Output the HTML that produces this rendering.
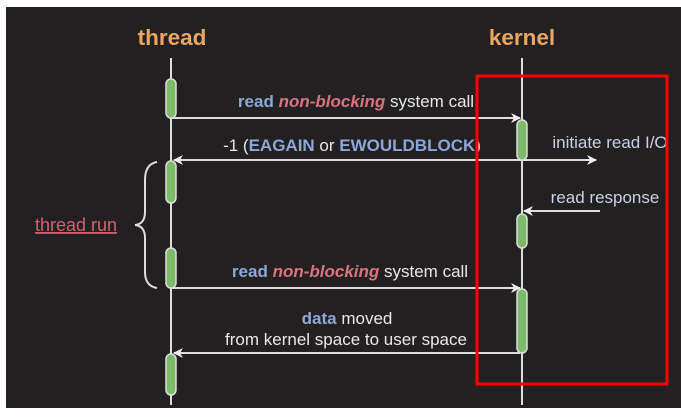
<!DOCTYPE html>
<html><head><style>
body{margin:0;background:#fff;width:681px;height:417px;overflow:hidden;font-family:"Liberation Sans",sans-serif}
</style></head><body>
<svg width="681" height="417" xmlns="http://www.w3.org/2000/svg" style="position:absolute;left:0;top:0">
<defs>
<marker id="a" markerWidth="10" markerHeight="10" refX="9" refY="5" orient="auto" markerUnits="userSpaceOnUse"><path d="M0,0 L10,5 L0,10 L3,5 Z" fill="#eee"/></marker>
<marker id="b" markerWidth="10" markerHeight="10" refX="1" refY="5" orient="auto" markerUnits="userSpaceOnUse"><path d="M10,0 L0,5 L10,10 L7,5 Z" fill="#eee"/></marker>
</defs>
<rect x="6" y="7" width="675" height="401" fill="#232021"/>
<g font-weight="bold" font-size="22.5" fill="#efa562" text-anchor="middle">
<text x="172" y="45">thread</text><text x="522" y="45">kernel</text></g>
<g stroke="#ddd" stroke-width="2">
<line x1="171" y1="58" x2="171" y2="405"/><line x1="522" y1="58" x2="522" y2="405"/>
<line x1="172" y1="118" x2="520" y2="118" marker-end="url(#a)"/>
<line x1="174" y1="160" x2="596" y2="160" marker-start="url(#b)" marker-end="url(#a)"/>
<line x1="600" y1="211" x2="524" y2="211" marker-end="url(#a)"/>
<line x1="172" y1="288" x2="520" y2="288" marker-end="url(#a)"/>
<line x1="520" y1="353" x2="174" y2="353" marker-end="url(#a)"/>
</g>
<g fill="#7dbb6a" stroke="#ddd" stroke-width="1.5">
<rect x="166" y="79" width="10" height="39" rx="5"/>
<rect x="166" y="161" width="10" height="42" rx="5"/>
<rect x="166" y="248" width="10" height="40" rx="5"/>
<rect x="166" y="354" width="10" height="41" rx="5"/>
<rect x="517" y="120" width="10" height="40" rx="5"/>
<rect x="517" y="214" width="10" height="34" rx="5"/>
<rect x="517" y="289" width="10" height="64" rx="5"/>
</g>
<path d="M157,162 Q145,164 145,180 L145,212 Q145,224 135,225 Q145,226 145,238 L145,272 Q145,286 157,288" fill="none" stroke="#ddd" stroke-width="2"/>
<text x="76" y="231" font-size="18" fill="#d2636e" text-anchor="middle" text-decoration="underline">thread run</text>
<g font-size="17" fill="#e8e8e8" text-anchor="middle">
<text x="356" y="107"><tspan fill="#8ea6d8" font-weight="bold">read </tspan><tspan fill="#d9747f" font-weight="bold" font-style="italic">non-blocking</tspan> system call</text>
<text x="352" y="151">-1 (<tspan fill="#8ea6d8" font-weight="bold">EAGAIN</tspan> or <tspan fill="#8ea6d8" font-weight="bold">EWOULDBLOCK</tspan>)</text>
<text x="350" y="277"><tspan fill="#8ea6d8" font-weight="bold">read </tspan><tspan fill="#d9747f" font-weight="bold" font-style="italic">non-blocking</tspan> system call</text>
<text x="347" y="324"><tspan fill="#8ea6d8" font-weight="bold">data</tspan> moved</text>
<text x="346" y="345">from kernel space to user space</text>
<text x="610" y="148" fill="#c8d0e8">initiate read I/O</text>
<text x="605" y="203" fill="#c8d0e8">read response</text>
</g>
<rect x="477" y="76" width="190" height="308" fill="none" stroke="#f00" stroke-width="3"/>
</svg>
</body></html>
